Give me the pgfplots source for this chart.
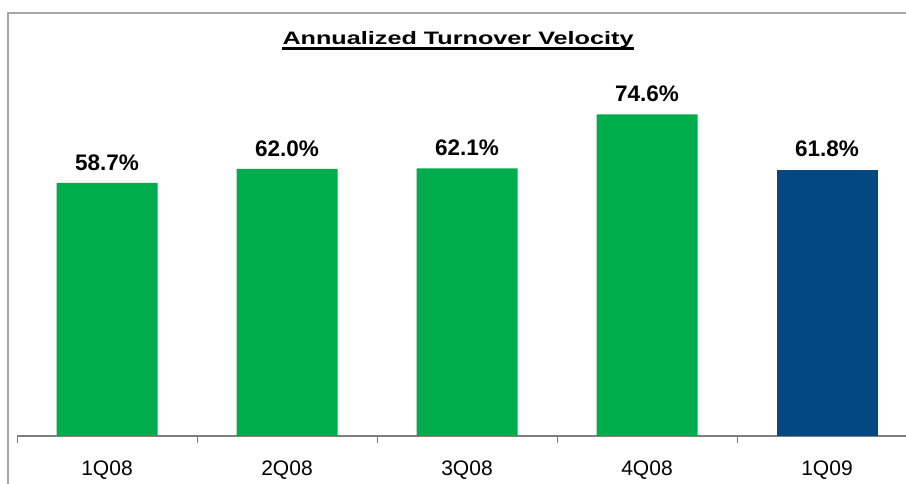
\documentclass[border=0pt]{standalone}
\usepackage{graphicx}
\usepackage{fontspec}
\setmainfont{Liberation Sans}
\usepackage{pgfplots}
\pgfplotsset{compat=1.18}
\definecolor{bargreen}{HTML}{00AD4D}
\definecolor{barblue}{HTML}{034783}
\definecolor{framegray}{HTML}{A6A6A6}
\definecolor{axisgray}{HTML}{7F7F7F}

\begin{document}
\begin{tikzpicture}[x=1pt,y=1pt]
\useasboundingbox (0,0) rectangle (906,484);
\clip (0,0) rectangle (906,484);
% chart frame (cut off on the right and at the bottom)
\draw[framegray, line width=1.5pt] (8,-20) -- (8,471) -- (930,471);

% title, stretched wide as in the original
\node[anchor=base, inner sep=0pt] (t) at (458,439.5)
  {\scalebox{1.40}[1]{\fontsize{18}{21}\selectfont\bfseries Annualized Turnover Velocity}};
\draw[line width=3pt] ([yshift=-4.5pt]t.base west) -- ([yshift=-4.5pt]t.base east);

\begin{axis}[
    at={(17pt,48pt)}, anchor=south west,
    scale only axis,
    width=900pt, height=387.9pt,
    xmin=-0.5, xmax=4.5,
    ymin=0, ymax=90,
    axis x line*=bottom,
    axis y line=none,
    x axis line style={axisgray, line width=1.2pt},
    xtick={0,1,2,3,4},
    xticklabels={1Q08,2Q08,3Q08,4Q08,1Q09},
    major tick length=0pt,
    minor xtick={-0.5,0.5,1.5,2.5,3.5,4.5},
    minor tick length=7pt,
    minor x tick style={axisgray, line width=1pt},
    tick align=outside,
    ytick=\empty,
    xticklabel style={font=\fontsize{21}{24}\selectfont, anchor=base, yshift=-40pt},
    ybar, bar width=101pt, bar shift=0pt,
    point meta=explicit symbolic,
    nodes near coords,
    nodes near coords style={font=\fontsize{22.5}{26}\selectfont\bfseries, anchor=base, yshift=12.7pt},
    clip=false,
]
\addplot[fill=bargreen, draw=none] coordinates {
    (0,58.7) [58.7\%]
    (1,62.0) [62.0\%]
    (2,62.1) [62.1\%]
    (3,74.6) [74.6\%]
};
\addplot[fill=barblue, draw=none] coordinates {
    (4,61.8) [61.8\%]
};
\end{axis}
\end{tikzpicture}
\end{document}
